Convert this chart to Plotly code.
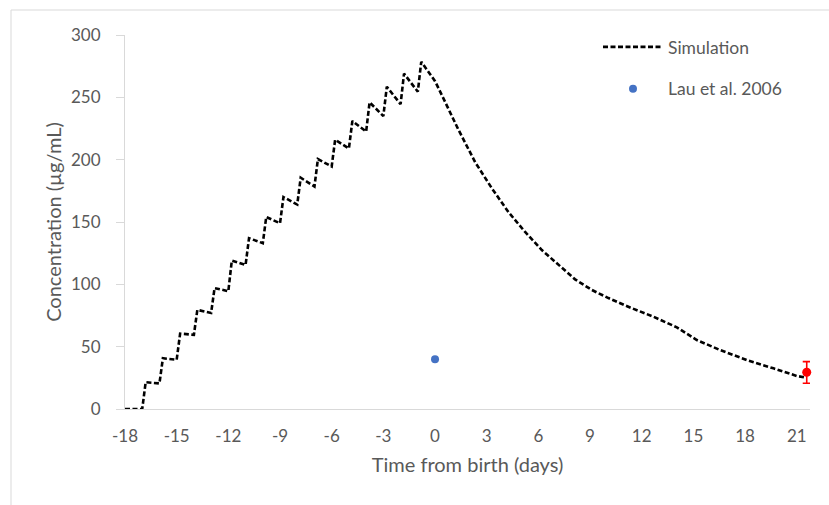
import plotly.graph_objects as go

# Simulation curve (days from birth, concentration µg/mL)
sim_t = [-18, -17.0, -16.8, -16.0, -15.8, -15.0, -14.8, -14.0, -13.8, -13.0, -12.8,
         -12.0, -11.8, -11.0, -10.8, -10.0, -9.8, -9.0, -8.8, -8.0, -7.8, -7.0, -6.8,
         -6.0, -5.8, -5.0, -4.8, -4.0, -3.8, -3.0, -2.8, -2.0, -1.8, -1.0, -0.8,
         0.0, 0.7, 1.36, 2.33, 3.3, 4.26, 5.23, 6.2, 7.16, 8.13, 9.1, 10.07, 11.4, 12.68,
         14.04, 15.2, 16.55, 18.1, 19.65, 21.0, 21.58]
sim_c = [0, 0, 21.5, 20.5, 40.7, 39.5, 60.5, 59.5, 79.5, 77, 97,
         94.5, 119, 115.5, 137, 133, 154, 149, 170, 164, 185.5, 178.5, 200.5,
         194.5, 216, 209, 231, 222.5, 246, 235, 258.5, 244.5, 269, 254.5, 278.5,
         263, 243, 224, 198, 177, 158, 142, 127.5, 115.5, 104, 95.5, 89, 81, 74,
         65.5, 55.3, 47.3, 39.3, 32.6, 26.5, 25]

# Lau et al. 2006
lau_t = [0]
lau_c = [40]

# Weaning observation with error bar
obs_t = [21.58]
obs_c = [29.5]
obs_err_plus = [8.5]
obs_err_minus = [8.8]

x_ticks = list(range(-18, 22, 3))
y_ticks = [0, 50, 100, 150, 200, 250, 300]

GRAY = "#595959"
AXIS = "#d9d9d9"
FONT = "Lato, Carlito, Calibri, sans-serif"

fig = go.Figure()
fig.add_trace(go.Scatter(
    x=sim_t, y=sim_c, mode="lines", name="Simulation",
    line=dict(color="black", width=2.6, dash="5px,2.5px"),
    legendgroup="a", cliponaxis=False))
fig.add_trace(go.Scatter(
    x=lau_t, y=lau_c, mode="markers", name="Lau et al. 2006",
    marker=dict(color="#4472C4", size=8), legendgroup="b"))
fig.add_trace(go.Scatter(
    x=obs_t, y=obs_c, mode="markers", showlegend=False,
    marker=dict(color="#ff0000", size=9), cliponaxis=False,
    error_y=dict(type="data", symmetric=False, array=obs_err_plus,
                 arrayminus=obs_err_minus, color="#ff0000", thickness=1.6, width=4)))

L, R, T, B = 125, 19, 35, 96
W, H = 829, 505
pw, ph = W - L - R, H - T - B

def px2paper_x(p):
    return (p - L) / pw

def px2paper_y(p):
    return (H - B - p) / ph

# chart-area border (light gray frame, partly outside the picture)
fig.add_shape(type="rect", xref="paper", yref="paper",
              x0=px2paper_x(11), x1=px2paper_x(840),
              y0=px2paper_y(520), y1=px2paper_y(10),
              line=dict(color=AXIS, width=1), layer="below")

fig.update_layout(
    width=W, height=H,
    margin=dict(l=L, r=R, t=T, b=B),
    paper_bgcolor="white", plot_bgcolor="white",
    font=dict(family=FONT, color=GRAY, size=16),
    showlegend=True,
    legend=dict(x=px2paper_x(598), y=px2paper_y(29), xanchor="left", yanchor="top",
                font=dict(size=17.5, color=GRAY), itemwidth=60,
                tracegroupgap=16, bgcolor="rgba(0,0,0,0)"),
)
fig.update_xaxes(
    range=[-18, 21.77], tickvals=x_ticks, ticktext=[str(v) for v in x_ticks],
    showgrid=False, zeroline=False, showline=True, linecolor=AXIS, linewidth=1,
    ticks="", ticklabelstandoff=12, tickfont=dict(size=17, color=GRAY),
    title=dict(text="Time from birth (days)", font=dict(size=20, color=GRAY), standoff=12),
    automargin=False)
fig.update_yaxes(
    range=[0, 300], tickvals=y_ticks, ticktext=[str(v) for v in y_ticks],
    showgrid=False, zeroline=False, showline=True, linecolor=AXIS, linewidth=1,
    ticks="outside", ticklen=8, tickcolor=AXIS, tickwidth=1, ticklabelstandoff=12,
    tickfont=dict(size=17, color=GRAY),
    title=dict(text="Concentration (µg/mL)", font=dict(size=20, color=GRAY), standoff=4),
    automargin=False)

fig.write_html("out.html")
